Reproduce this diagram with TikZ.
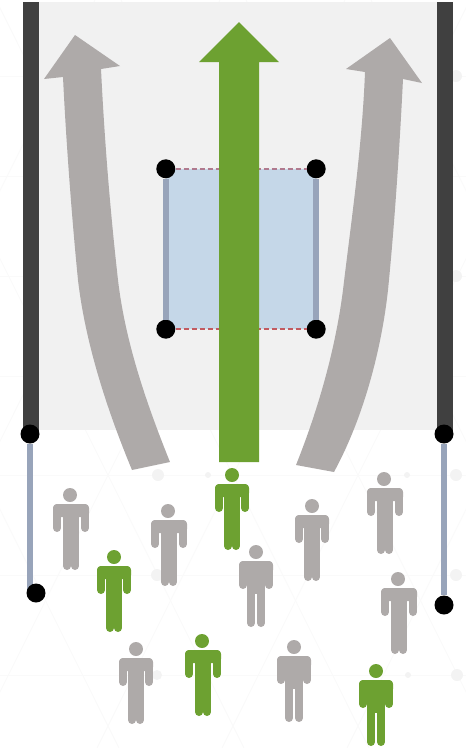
\documentclass[tikz,border=0pt]{standalone}
\usepackage{tikz}
\usetikzlibrary{arrows.meta,positioning,calc}
\usepackage{xcolor}
\definecolor{flowgrey}{HTML}{AEAAA9}
\definecolor{flowgreen}{HTML}{6DA131}
\definecolor{polegrey}{HTML}{98A4BA}
\definecolor{walldark}{HTML}{404040}
\definecolor{bandgrey}{HTML}{F1F1F1}
\definecolor{panelblue}{HTML}{C5D7E8}
\definecolor{latticegrey}{HTML}{FAFAFA}
\definecolor{blobgrey}{HTML}{F3F3F3}
\definecolor{edgetop}{HTML}{B07A8E}
\definecolor{edgebottom}{HTML}{C25A60}
\newcommand{\person}[5]{%
    \begin{scope}[shift={(#1,#2)}]
        \fill[#3] ({17-#4},0) circle (7pt);
        \fill[#3, rounded corners=4pt] (-#4,9) rectangle (#4,22);
        \fill[#3] ({-#5-4},12) rectangle ({#5+4},42);
        \draw[#3, line width=8pt, line cap=round] ({-#4+4},13) -- ({-#4+4},33);
        \draw[#3, line width=8pt, line cap=round] ({#4-4},13) -- ({#4-4},33);
        \draw[#3, line width=8pt, line cap=round] (-#5,40) -- (-#5,71);
        \draw[#3, line width=8pt, line cap=round] (#5,40) -- (#5,71);
    \end{scope}%
}

\begin{document}
\begin{tikzpicture}[
    x=1pt, y=-1pt,
    dot/.style={circle, fill=black, inner sep=0pt, minimum size=19pt},
    panel/.style={fill=panelblue, minimum width=150pt, minimum height=160pt, inner sep=0pt},
    wall/.style={walldark, line width=16pt},
    pole/.style={polegrey, line width=6pt},
    edgeline/.style={line width=2pt, dash pattern=on 5pt off 3pt},
    flow/.style={fill=flowgrey},
    hexline/.style={latticegrey, line width=1pt}
]
\useasboundingbox (0,0) rectangle (466,748);

% faint lattice
\begin{scope}
    \clip (0,0) rectangle (466,748);
    \foreach \k in {-3,...,6} {
        \draw[hexline] ({108+125*\k-237},0) -- ({108+125*\k+136},748);
        \draw[hexline] ({108+125*\k+237},0) -- ({108+125*\k-136},748);
    }
    \foreach \ly in {76,176,276,376,475,575,675} {
        \draw[hexline] (0,\ly) -- (466,\ly);
    }
    \foreach \bx/\by/\br in {456/76/6,456/276/6,456/475/6,456/575/6,457/675/6,158/475/6,157/575/6,157/675/5,208/475/3,407/475/3,408/675/3} {
        \fill[blobgrey] (\bx,\by) circle (\br pt);
    }
\end{scope}

% band and side walls
\fill[bandgrey] (39,2) rectangle (437,430);
\coordinate (walltopL) at (31,2);
\coordinate (wallfootL) at (31,434);
\coordinate (walltopR) at (445,2);
\coordinate (wallfootR) at (445,434);
\draw[wall] (walltopL) -- (wallfootL);
\draw[wall] (walltopR) -- (wallfootR);

% curved arrows
\fill[flow] (132,470) .. controls (105,405) and (85,340) .. (78,280)
    .. controls (72,220) and (66,140) .. (63,77)
    -- (44,79) -- (75,35) -- (120,66) -- (101,69)
    .. controls (104,130) and (109,200) .. (118,280)
    .. controls (125,340) and (145,400) .. (170,462) -- cycle;
\fill[flow] (296,465) .. controls (320,405) and (336,345) .. (343,290)
    .. controls (350,230) and (362,150) .. (365,72)
    -- (346,69) -- (390,38) -- (422,83) -- (403,79)
    .. controls (400,140) and (395,220) .. (388,290)
    .. controls (382,345) and (365,415) .. (334,472) -- cycle;

% panel with corner joints
\node[panel] (window) at (241,249) {};
\node[dot] (jointNW) at (window.north west) {};
\node[dot] (jointNE) at (window.north east) {};
\node[dot] (jointSW) at (window.south west) {};
\node[dot] (jointSE) at (window.south east) {};
\draw[pole] (jointNW) -- (jointSW);
\draw[pole] (jointNE) -- (jointSE);
\draw[edgeline, color=edgetop] (jointNW) -- (jointNE);
\draw[edgeline, color=edgebottom] (jointSW) -- (jointSE);

% green arrow
\fill[flowgreen] (219,462) -- (219,62) -- (199,62) -- (239,22) -- (279,62) -- (259,62) -- (259,462) -- cycle;

% hanging poles
\coordinate (poleendL) at (30,590);
\node[dot] (jointL) at (30,434) {};
\node[dot] (jointR) at (444,434) {};
\node[dot] (footR) at (444,605) {};
\draw[pole] (jointL) -- (poleendL);
\draw[pole] (jointR) -- (footR);
\node[dot] (footL) at (36,593) {};

% people
\foreach \hx/\hy/\col/\sw/\lg in {
    71/495/flowgrey/18/4, 169/511/flowgrey/18/4, 232/475/flowgreen/17/4,
    312/506/flowgrey/17/4, 385/479/flowgrey/18/4, 114/557/flowgreen/17/4,
    256/552/flowgrey/17/5, 399/579/flowgrey/18/4, 136/649/flowgrey/17/4,
    203/641/flowgreen/18/4, 294/647/flowgrey/17/5, 376/671/flowgreen/17/5} {
    \person{\hx}{\hy}{\col}{\sw}{\lg}
}
\end{tikzpicture}
\end{document}
